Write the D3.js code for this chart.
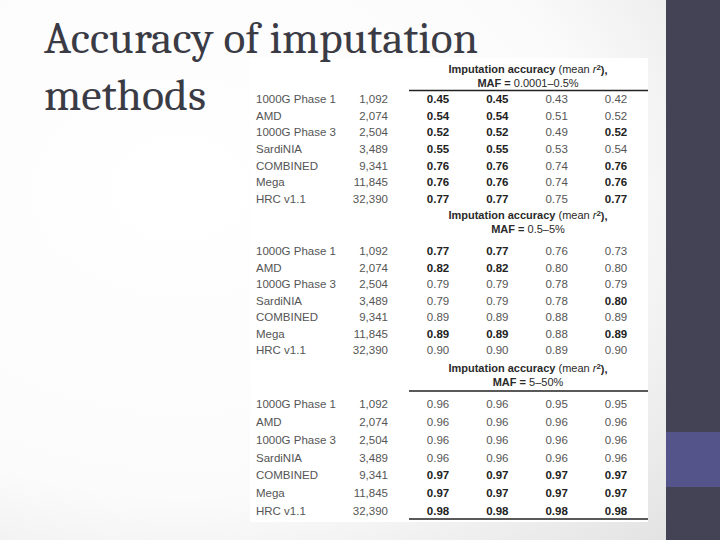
<!DOCTYPE html>
<html>
<head>
<meta charset="utf-8">
<script src="https://cdn.jsdelivr.net/npm/d3@7"></script>
<style>
  body { margin: 0; background: #fff; }
  svg { display: block; }
</style>
</head>
<body>
<svg id="slide" width="720" height="540"></svg>
<script>
// table contents
const references = ["1000G Phase 1", "AMD", "1000G Phase 3", "SardiNIA", "COMBINED", "Mega", "HRC v1.1"];
const sampleSizes = ["1,092", "2,074", "2,504", "3,489", "9,341", "11,845", "32,390"];
const mafRanges = ["MAF = 0.0001\u20130.5%", "MAF = 0.5\u20135%", "MAF = 5\u201350%"];

const accRare = [
  [0.45, 0.45, 0.43, 0.42], [0.54, 0.54, 0.51, 0.52], [0.52, 0.52, 0.49, 0.52],
  [0.55, 0.55, 0.53, 0.54], [0.76, 0.76, 0.74, 0.76], [0.76, 0.76, 0.74, 0.76],
  [0.77, 0.77, 0.75, 0.77]
];
const accLow = [
  [0.77, 0.77, 0.76, 0.73], [0.82, 0.82, 0.80, 0.80], [0.79, 0.79, 0.78, 0.79],
  [0.79, 0.79, 0.78, 0.80], [0.89, 0.89, 0.88, 0.89], [0.89, 0.89, 0.88, 0.89],
  [0.90, 0.90, 0.89, 0.90]
];
const accCommon = [
  [0.96, 0.96, 0.95, 0.95], [0.96, 0.96, 0.96, 0.96], [0.96, 0.96, 0.96, 0.96],
  [0.96, 0.96, 0.96, 0.96], [0.97, 0.97, 0.97, 0.97], [0.97, 0.97, 0.97, 0.97],
  [0.98, 0.98, 0.98, 0.98]
];
// 1 = printed in bold in the source table
const boldRare = [[1,1,0,0],[1,1,0,0],[1,1,0,1],[1,1,0,0],[1,1,0,1],[1,1,0,1],[1,1,0,1]];
const boldLow = [[1,1,0,0],[1,1,0,0],[0,0,0,0],[0,0,0,1],[0,0,0,0],[1,1,0,1],[0,0,0,0]];
const boldCommon = [[0,0,0,0],[0,0,0,0],[0,0,0,0],[0,0,0,0],[1,1,1,1],[1,1,1,1],[1,1,1,1]];

const titleLines = ["Accuracy of imputation", "methods"];

const svg = d3.select("#slide");
const defs = svg.append("defs");

// slide background: white fading to light grey towards the right
let grad = defs.append("radialGradient").attr("id", "bg")
    .attr("cx", 0.25).attr("cy", 0.35).attr("r", 0.95);
grad.append("stop").attr("offset", "0%").attr("stop-color", "#ffffff");
grad.append("stop").attr("offset", "60%").attr("stop-color", "#fbfbfb");
grad.append("stop").attr("offset", "100%").attr("stop-color", "#e2e2e2");
svg.append("rect").attr("width", 720).attr("height", 540).attr("fill", "url(#bg)");

// right sidebar
svg.append("rect").attr("x", 666).attr("y", 0).attr("width", 54).attr("height", 540).attr("fill", "#434355");
svg.append("rect").attr("x", 666).attr("y", 432).attr("width", 54).attr("height", 55).attr("fill", "#54548a");

// table image area
svg.append("rect").attr("x", 250).attr("y", 58).attr("width", 398).attr("height", 464).attr("fill", "#ffffff");

// title
const title = svg.append("g").attr("class", "title");
title.selectAll("text")
    .data(titleLines)
    .enter().append("text")
    .attr("x", 44)
    .attr("y", (d, i) => 53 + i * 57)
    .attr("textLength", (d, i) => i === 0 ? 434 : 162)
    .attr("lengthAdjust", "spacingAndGlyphs")
    .style("font-family", "Cambria, 'Liberation Serif', 'DejaVu Serif', serif")
    .style("font-size", "44px")
    .style("fill", "#3b3b45")
    .text(d => d);

// column positions for the four accuracy columns
const colX = d3.scalePoint().domain([0, 1, 2, 3]).range([438, 616]);
const lineX = [409, 648];

const sections = [
  {maf: mafRanges[0], values: accRare, bold: boldRare, head: 69, rows: [99, 199], rule: 90.5},
  {maf: mafRanges[1], values: accLow, bold: boldLow, head: 215, rows: [251, 350], rule: null},
  {maf: mafRanges[2], values: accCommon, bold: boldCommon, head: 368, rows: [404, 511], rule: 391}
];

const font = "'Liberation Sans', Arial, sans-serif";
const table = svg.append("g").attr("class", "table")
    .style("font-family", font).style("font-size", "11.5px");

sections.forEach(sec => {
    let g = table.append("g").style("font-size", "11px");
    let y = d3.scalePoint().domain(d3.range(references.length)).range(sec.rows);

    // two-line header
    let h1 = g.append("text").attr("x", 528).attr("y", sec.head).attr("dy", "0.35em")
        .attr("text-anchor", "middle").style("fill", "#2a2a2a");
    h1.append("tspan").style("font-weight", "bold").text("Imputation accuracy ");
    h1.append("tspan").text("(mean ");
    h1.append("tspan").style("font-style", "italic").text("r");
    h1.append("tspan").attr("dy", "-0.4em").style("font-size", "8px").style("font-weight", "bold").text("2");
    h1.append("tspan").attr("dy", "0.4em").style("font-weight", "bold").text("),");

    let h2 = g.append("text").attr("x", 528).attr("y", sec.head + 14).attr("dy", "0.35em")
        .attr("text-anchor", "middle").style("fill", "#2a2a2a");
    h2.append("tspan").style("font-weight", "bold").text("MAF = ");
    h2.append("tspan").text(sec.maf.replace("MAF = ", ""));

    if (sec.rule !== null) {
        g.append("line").attr("x1", lineX[0]).attr("x2", lineX[1])
            .attr("y1", sec.rule).attr("y2", sec.rule)
            .attr("stroke", "#222").attr("stroke-width", 1.3);
    }

    let rows = g.selectAll(".row")
        .data(references)
        .enter().append("g")
        .attr("class", "row")
        .style("font-size", "11.5px")
        .attr("transform", (d, i) => "translate(0," + y(i) + ")");

    rows.append("text").attr("x", 256).attr("dy", "0.35em")
        .style("fill", "#555")
        .text(d => d);
    rows.append("text").attr("x", 388).attr("dy", "0.35em")
        .attr("text-anchor", "end")
        .style("fill", "#555")
        .text((d, i) => sampleSizes[i]);

    rows.selectAll(".val")
        .data((d, i) => sec.values[i].map((v, j) => ({v: v, b: sec.bold[i][j], c: j})))
        .enter().append("text")
        .attr("class", "val")
        .attr("x", d => colX(d.c))
        .attr("dy", "0.35em")
        .attr("text-anchor", "middle")
        .style("font-weight", d => d.b ? "bold" : "normal")
        .style("fill", d => d.b ? "#222" : "#555")
        .text(d => d3.format(".2f")(d.v));
});

// bottom rule of the table
table.append("line").attr("x1", lineX[0]).attr("x2", lineX[1])
    .attr("y1", 519).attr("y2", 519)
    .attr("stroke", "#222").attr("stroke-width", 1.3);
</script>
</body>
</html>
